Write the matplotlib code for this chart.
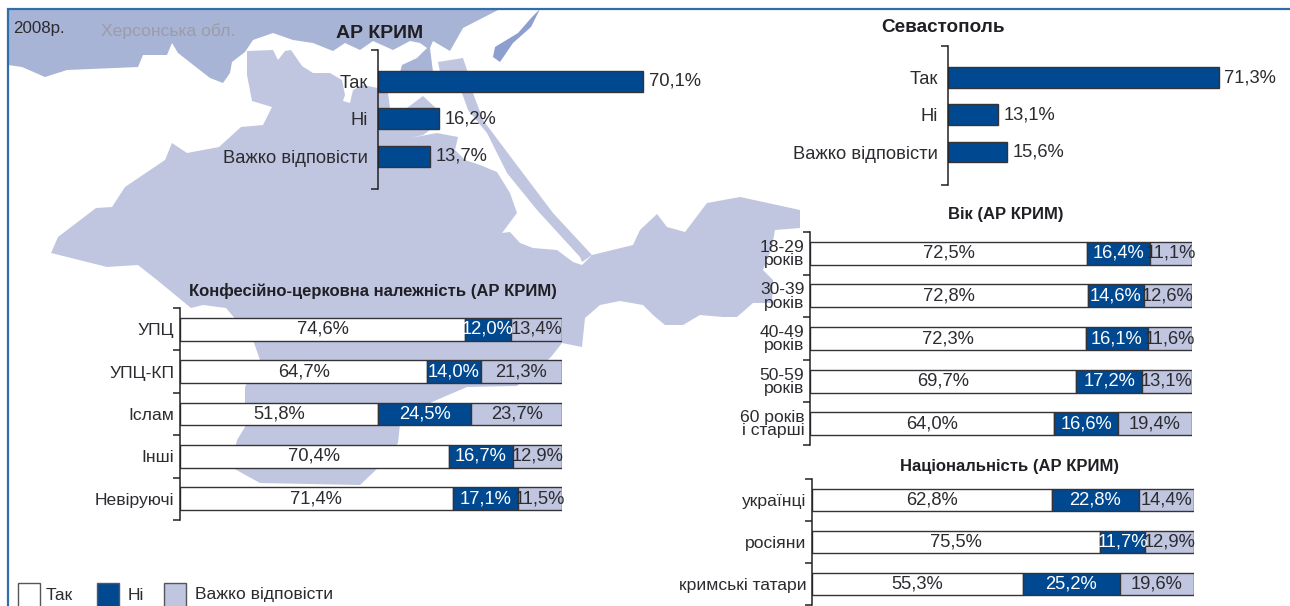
import matplotlib
matplotlib.use('Agg')
import matplotlib.pyplot as plt
from matplotlib.patches import Polygon, Rectangle

plt.rcParams['font.family'] = ['Liberation Sans Narrow', 'Liberation Sans', 'DejaVu Sans']

W, H = 1290, 606

# дані
answers = ['Так', 'Ні', 'Важко відповісти']
krym_vals = [70.1, 16.2, 13.7]
sev_vals = [71.3, 13.1, 15.6]

conf_cats = ['УПЦ', 'УПЦ-КП', 'Іслам', 'Інші', 'Невіруючі']
conf_yes = [74.6, 64.7, 51.8, 70.4, 71.4]
conf_no = [12.0, 14.0, 24.5, 16.7, 17.1]
conf_hard = [13.4, 21.3, 23.7, 12.9, 11.5]

age_cats = ['18-29\nроків', '30-39\nроків', '40-49\nроків', '50-59\nроків', '60 років\nі старші']
age_yes = [72.5, 72.8, 72.3, 69.7, 64.0]
age_no = [16.4, 14.6, 16.1, 17.2, 16.6]
age_hard = [11.1, 12.6, 11.6, 13.1, 19.4]

nat_cats = ['українці', 'росіяни', 'кримські татари']
nat_yes = [62.8, 75.5, 55.3]
nat_no = [22.8, 11.7, 25.2]
nat_hard = [14.4, 12.9, 19.6]

BLUE = '#004990'
LIGHT = '#c0c6e0'
DARK_LAND = '#a8b4d5'
LAKE = '#8c9fcf'
INK = '#2b2b30'
EDGE = '#333338'
FS = 13.2

# контури карти (тло), у пікселях картинки
kherson = [(8, 9), (500, 9), (463, 28), (450, 51), (433, 41), (430, 48), (433, 72), (400, 72), (402, 65),
           (417, 58), (427, 48), (420, 43), (410, 41), (393, 50), (373, 41), (360, 50), (345, 43), (333, 51),
           (313, 43), (293, 40), (273, 33), (253, 40), (245, 52), (232, 62), (230, 73), (223, 83), (210, 78),
           (178, 53), (172, 43), (167, 55), (143, 55), (138, 67), (67, 70), (45, 77), (22, 67), (8, 65)]
crimea = [(247, 51), (273, 50), (278, 60), (285, 51), (291, 50), (302, 66), (313, 73), (330, 73), (342, 80),
          (345, 95), (343, 101), (350, 103), (353, 90), (363, 85), (378, 88), (378, 93), (388, 93), (390, 108),
          (407, 108), (423, 96), (438, 110), (438, 130), (430, 130), (423, 135), (410, 138), (437, 133),
          (458, 137), (455, 150), (465, 160), (480, 165), (497, 172), (510, 193), (517, 213), (502, 233),
          (510, 232), (520, 243), (533, 248), (557, 250), (573, 262), (582, 265), (592, 255), (633, 245),
          (640, 230), (657, 214), (667, 227), (685, 232), (707, 203), (740, 197), (754, 200), (800, 210),
          (800, 228), (775, 230), (772, 247), (763, 270), (773, 280), (772, 303), (753, 303), (737, 317),
          (723, 317), (700, 315), (683, 325), (665, 325), (653, 315), (643, 305), (620, 301), (600, 305),
          (585, 318), (582, 347), (562, 343), (551, 357), (517, 386), (467, 387), (432, 402), (400, 424),
          (398, 443), (379, 467), (360, 485), (260, 483), (231, 467), (237, 440), (245, 427), (245, 387),
          (260, 360), (253, 340), (226, 308), (203, 305), (191, 308), (157, 280), (138, 265), (107, 267),
          (51, 253), (58, 237), (96, 208), (112, 207), (125, 187), (165, 160), (172, 143), (187, 153),
          (219, 147), (241, 127), (263, 125), (272, 107), (252, 101), (247, 75)]
spit = [(438, 62), (463, 58), (467, 70), (473, 93), (483, 120), (513, 160), (553, 213), (592, 255), (582, 262),
        (580, 257), (537, 210), (507, 173), (487, 133), (468, 110), (462, 93), (440, 72)]
lake = [(540, 9), (531, 27), (513, 43), (500, 62), (493, 57), (495, 47), (518, 33), (532, 17)]


def px_axes(fig, left, top, right, bottom):
    return fig.add_axes([left / W, 1 - bottom / H, (right - left) / W, (bottom - top) / H])


def style_axis(ax):
    ax.patch.set_alpha(0)
    for s in ['top', 'right', 'bottom']:
        ax.spines[s].set_visible(False)
    ax.spines['left'].set_color('#222226')
    ax.spines['left'].set_linewidth(1.1)
    ax.xaxis.set_visible(False)


def simple_panel(fig, left, top, right, bottom, vals, xmax, ylim):
    ax = px_axes(fig, left, top, right, bottom)
    style_axis(ax)
    y = range(len(answers))
    ax.barh(y, vals, height=0.56, color=BLUE, edgecolor=EDGE, linewidth=1)
    for i, v in zip(y, vals):
        ax.annotate(f'{v:.1f}%'.replace('.', ','), (v, i), xytext=(4, 0), textcoords='offset points',
                    ha='left', va='center', fontsize=FS, color=INK)
    ax.set_xlim(0, xmax)
    ax.set_ylim(*ylim)
    ax.set_yticks(list(y))
    ax.set_yticklabels(answers, fontsize=FS, color=INK, family=['Liberation Sans'])
    ax.tick_params(axis='y', which='major', length=0, pad=7)
    ax.set_yticks(list(ylim), minor=True)
    ax.tick_params(axis='y', which='minor', length=5, width=1.1, color='#222226')


def stacked_panel(fig, left, top, right, bottom, cats, yes, no, hard):
    ax = px_axes(fig, left, top, right, bottom)
    style_axis(ax)
    y = [i + 0.5 for i in range(len(cats))]
    starts = [0] * len(cats)
    for vals, col, tcol in [(yes, 'white', INK), (no, BLUE, 'white'), (hard, LIGHT, INK)]:
        ax.barh(y, vals, left=starts, height=0.54, color=col, edgecolor=EDGE, linewidth=1)
        for i, v, s in zip(y, vals, starts):
            ax.text(s + v / 2, i, f'{v:.1f}%'.replace('.', ','), ha='center', va='center',
                    fontsize=FS, color=tcol)
        starts = [s + v for s, v in zip(starts, vals)]
    ax.set_xlim(0, 100)
    ax.set_ylim(len(cats), 0)
    ax.set_yticks(y)
    ax.set_yticklabels(cats, fontsize=FS - 0.6, color=INK, linespacing=0.85)
    ax.tick_params(axis='y', which='major', length=0, pad=4)
    ax.set_yticks(range(len(cats) + 1), minor=True)
    ax.tick_params(axis='y', which='minor', length=5, width=1.1, color='#222226')


fig = plt.figure(figsize=(W / 100, H / 100), dpi=100)

# тло: карта і рамка
bg = fig.add_axes([0, 0, 1, 1])
bg.set_xlim(0, W)
bg.set_ylim(H, 0)
bg.axis('off')
bg.add_patch(Polygon(kherson, closed=True, fc=DARK_LAND, ec='none'))
bg.add_patch(Polygon(crimea, closed=True, fc=LIGHT, ec='none'))
bg.add_patch(Polygon(spit, closed=True, fc=LIGHT, ec='none'))
bg.add_patch(Polygon(lake, closed=True, fc=LAKE, ec='none'))
bg.plot([8, 8, W], [H, 9, 9], color='#2f6eaa', lw=1.6, solid_joinstyle='miter')

bg.text(13, 28, '2008р.', fontsize=FS - 1, color=INK, va='center')
bg.text(101, 31, 'Херсонська обл.', fontsize=FS - 0.6, color='#9c9ca6', va='center')

simple_panel(fig, 378, 50, 700, 189, krym_vals, (700 - 378) / 3.78, (2.867, -0.84))
simple_panel(fig, 948, 46, 1270, 185, sev_vals, (1270 - 948) / 3.80, (2.886, -0.846))
stacked_panel(fig, 180, 308, 562, 520, conf_cats, conf_yes, conf_no, conf_hard)
stacked_panel(fig, 810, 232, 1192, 445, age_cats, age_yes, age_no, age_hard)
stacked_panel(fig, 812, 479, 1194, 605, nat_cats, nat_yes, nat_no, nat_hard)

# заголовки
titles = [('АР КРИМ', 380, 33, 14), ('Севастополь', 943, 27, 13.6),
          ('Конфесійно-церковна належність (АР КРИМ)', 373, 291, 12),
          ('Вік (АР КРИМ)', 1006, 215, 12), ('Національність (АР КРИМ)', 1010, 466, 12)]
for txt, x, y, fs in titles:
    bg.text(x, y, txt, ha='center', va='center', fontsize=fs, fontweight='bold', color='#1f1f24',
            family=['Liberation Sans'])

# легенда
legend_items = [('Так', 'white', 18, 46), ('Ні', BLUE, 97, 128), ('Важко відповісти', LIGHT, 164, 195)]
for txt, col, x0, tx in legend_items:
    bg.add_patch(Rectangle((x0, 583), 22, 24, fc=col, ec='#55555c', lw=1))
    bg.text(tx, 595, txt, fontsize=FS - 0.6, color=INK, va='center')

fig.savefig('out.png', dpi=100)
